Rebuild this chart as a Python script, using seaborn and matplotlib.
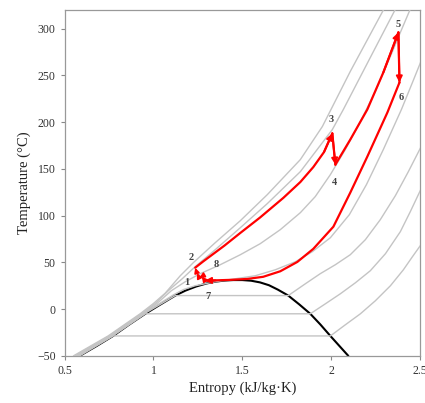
import matplotlib
matplotlib.use('Agg')
import matplotlib.pyplot as plt
import seaborn as sns

# saturation dome (CO2)
dome_s = [0.585, 0.68, 0.773, 0.86, 0.954, 1.04, 1.123, 1.18, 1.24, 1.30, 1.35, 1.40, 1.45, 1.50,
          1.55, 1.60, 1.65, 1.70, 1.759, 1.82, 1.883, 1.94, 1.996, 2.097]
dome_T = [-50, -39.5, -28.7, -17, -5, 5, 14.5, 19.8, 24.2, 27.5, 29.4, 30.6, 31.1, 31.1,
          30.4, 28.6, 25.6, 20.9, 14.5, 5.2, -5, -16.5, -28.7, -50]

# isobars, highest pressure first
pA_s = [0.55, 0.745, 0.925, 1.00, 1.066, 1.151, 1.224, 1.348, 1.489, 1.641, 1.827, 1.951, 2.108, 2.30]
pA_T = [-50, -28.7, -5, 6, 17, 35.7, 49.6, 71.1, 94.6, 122.5, 160, 195.4, 254.3, 322]
pB_s = [0.56, 0.752, 0.932, 1.01, 1.083, 1.162, 1.235, 1.348, 1.489, 1.641, 1.827, 2.007, 2.069, 2.221, 2.365]
pB_T = [-50, -28.7, -5, 6, 19.6, 32.5, 45.4, 63.6, 87.1, 112.9, 147.1, 192.1, 213.6, 269.3, 322]
pC_s = [0.565, 0.757, 0.937, 1.02, 1.10, 1.179, 1.263, 1.376, 1.489, 1.601, 1.714, 1.827, 1.911,
        1.996, 2.080, 2.165, 2.249, 2.334, 2.390, 2.448]
pC_T = [-50, -28.7, -5, 6, 19.6, 29.3, 37.9, 47.5, 58.2, 70, 85, 103.2, 120.4,
        143.9, 170.7, 200.7, 232.9, 270.4, 296.1, 322]
pD_s = [0.57, 0.762, 0.942, 1.03, 1.115, 1.17, 1.235, 1.348, 1.461, 1.573, 1.686, 1.799, 1.894,
        1.996, 2.103, 2.199, 2.294, 2.396, 2.458, 2.51]
pD_T = [-50, -28.7, -5, 5.5, 15.5, 21, 25, 29.3, 32.5, 35.7, 42.1, 50.7, 61.4,
        76.4, 101.1, 133.2, 170.7, 213.6, 242.5, 267]
pE_s = [0.575, 0.767, 0.948, 1.123, 1.759, 1.855, 1.939, 2.024, 2.108, 2.193, 2.277, 2.362, 2.435, 2.51]
pE_T = [-50, -28.7, -5, 14.5, 14.5, 27.1, 37.9, 47.5, 58.2, 74.3, 95.7, 121.4, 147.1, 175]
pF_s = [0.58, 0.770, 0.954, 1.883, 1.968, 2.052, 2.137, 2.221, 2.306, 2.390, 2.446, 2.51]
pF_T = [-50, -28.7, -5, -5, 5.7, 16.4, 28.2, 41.1, 59.3, 82.9, 104.3, 130]
pG_s = [0.585, 0.773, 1.996, 2.080, 2.165, 2.249, 2.334, 2.407, 2.458, 2.51]
pG_T = [-50, -28.7, -28.7, -16.8, -5, 8.9, 25, 42.1, 56.1, 70]

# cycle
c23_s = [1.235, 1.28, 1.40, 1.489, 1.60, 1.731, 1.827, 1.90, 1.96, 2.007]
c23_T = [44.3, 51, 68, 81.5, 98, 119, 136, 152, 168, 188]
c34_s = [2.007, 2.024]
c34_T = [188, 154.6]
c45_s = [2.024, 2.108, 2.204, 2.294, 2.379]
c45_T = [154.6, 181.4, 213.6, 253.2, 296.1]
c56_s = [2.379, 2.385]
c56_T = [296.1, 242.5]
c67_s = [2.385, 2.317, 2.204, 2.108, 2.013, 1.900, 1.810, 1.714, 1.618, 1.528, 1.432, 1.35, 1.29]
c67_T = [242.5, 210.4, 163.2, 124.6, 88.2, 64.5, 50.5, 40.5, 34.6, 32.3, 31.3, 30.8, 30.5]
c72_s = [1.29, 1.272, 1.258, 1.245, 1.235]
c72_T = [30.5, 35, 33.5, 38.5, 44.3]

pt_labels = ['1', '2', '3', '4', '5', '6', '7', '8']
pt_s = [1.187, 1.212, 1.998, 2.022, 2.375, 2.397, 1.306, 1.352]
pt_T = [28.5, 55.5, 202.5, 135, 305, 226, 13, 47.5]

sns.set_style('white')
plt.rcParams['font.family'] = ['Liberation Serif', 'DejaVu Serif']

fig, ax = plt.subplots(figsize=(4.25, 4.03), dpi=100)
fig.subplots_adjust(left=0.152, right=0.988, bottom=0.117, top=0.975)

sns.lineplot(x=dome_s, y=dome_T, sort=False, color='black', lw=1.5, ax=ax, zorder=2)
for xs, ys in [(pA_s, pA_T), (pB_s, pB_T), (pC_s, pC_T), (pD_s, pD_T),
               (pE_s, pE_T), (pF_s, pF_T), (pG_s, pG_T)]:
    sns.lineplot(x=xs, y=ys, sort=False, color='#c4c4c4', lw=1.0, ax=ax, zorder=3)

red = '#ff0000'
for xs, ys in [(c23_s, c23_T), (c34_s, c34_T), (c45_s, c45_T), (c56_s, c56_T), (c67_s, c67_T)]:
    sns.lineplot(x=xs, y=ys, sort=False, color=red, lw=1.6, ax=ax, zorder=4)
    ax.annotate('', xy=(xs[-1], ys[-1]), xytext=(xs[-2], ys[-2]),
                arrowprops=dict(arrowstyle='-|>', color=red, lw=1.4, mutation_scale=9,
                                shrinkA=0, shrinkB=0), zorder=5)
for i in range(len(c72_s) - 1):
    ax.annotate('', xy=(c72_s[i + 1], c72_T[i + 1]), xytext=(c72_s[i], c72_T[i]),
                arrowprops=dict(arrowstyle='-|>', color=red, lw=1.3, mutation_scale=7,
                                shrinkA=0, shrinkB=0), zorder=5)

for lab, xs, ys in zip(pt_labels, pt_s, pt_T):
    ax.text(xs, ys, lab, ha='center', va='center', fontsize=7.5, fontweight='bold', color='#444444')

ax.set_xlim(0.5, 2.5)
ax.set_ylim(-50, 320)
ax.set_xticks([0.5, 1, 1.5, 2, 2.5])
ax.set_xticklabels(['0.5', '1', '1.5', '2', '2.5'])
ax.set_yticks(range(-50, 301, 50))
ax.tick_params(axis='both', direction='out', length=3, width=0.8, color='#888888',
               labelsize=8.5, labelcolor='#333333', bottom=True, left=True)
for sp in ax.spines.values():
    sp.set_color('#999999')
    sp.set_linewidth(0.9)
ax.set_xlabel('Entropy (kJ/kg·K)', fontsize=10.5, color='#222222', labelpad=3)
ax.set_ylabel('Temperature (°C)', fontsize=10.5, color='#222222', labelpad=4)

fig.savefig('out.png', dpi=100)
